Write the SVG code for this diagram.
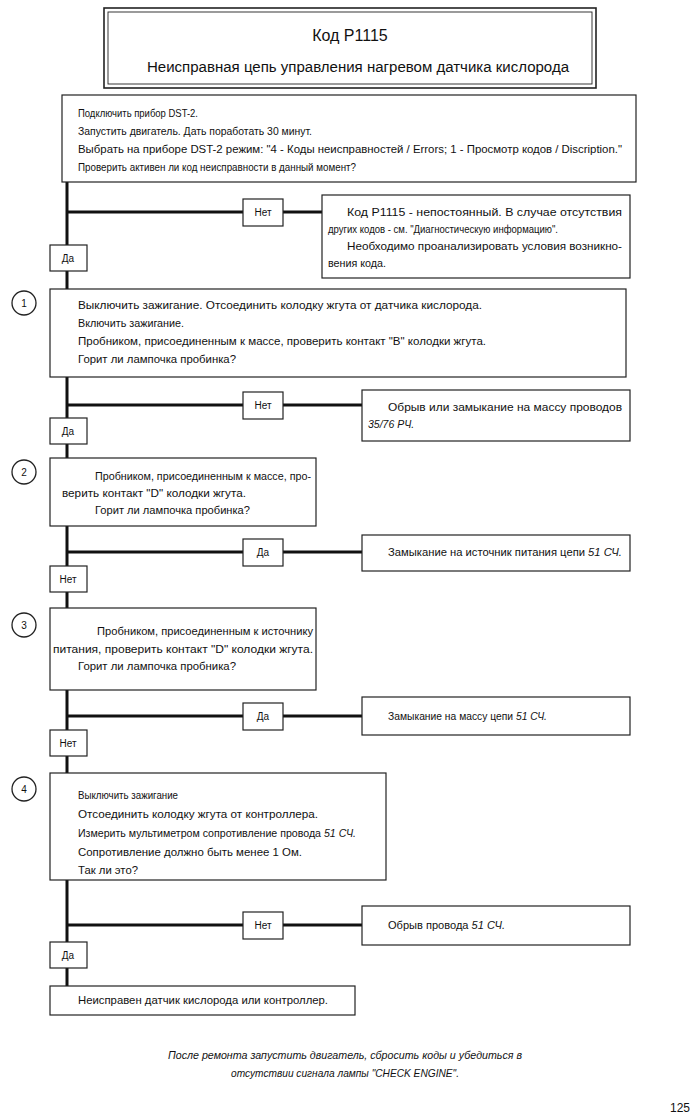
<svg xmlns="http://www.w3.org/2000/svg" width="693" height="1120" viewBox="0 0 693 1120">
<style>
text{font-family:"Liberation Sans",Arial,sans-serif;fill:#111}
.t{font-size:10.5px}
.tb{font-size:10.5px}
.i{font-style:italic}
.box{fill:#fff;stroke:#222;stroke-width:1.2}
.lbl{fill:#fff;stroke:#222;stroke-width:1.2}
.ln{stroke:#111;stroke-width:3;fill:none}
.num{font-size:10px;text-anchor:middle}
.lt{font-size:10px;text-anchor:middle}
</style>
<rect width="693" height="1120" fill="#fff"/>

<g id="header">
<rect x="104" y="8" width="492" height="80" fill="#fff" stroke="#222" stroke-width="1.6"/>
<rect x="108" y="12" width="484" height="72" fill="none" stroke="#222" stroke-width="0.9"/>
<text x="350" y="41" font-size="16" text-anchor="middle">Код P1115</text>
<text x="358" y="72" font-size="14" text-anchor="middle" textLength="422" lengthAdjust="spacingAndGlyphs">Неисправная цепь управления нагревом датчика кислорода</text>
</g>

<g id="connectors">
<path class="ln" d="M67 182V289M67 377V458M67 526V608M67 690V773M67 880V986"/>
<path class="ln" d="M67 212H322M67 405H362M67 552H362M67 716H362M67 925H362"/>
</g>

<g id="start">
<rect class="box" x="62" y="95" width="574" height="87"/>
<text class="t" x="78" y="117" textLength="120" lengthAdjust="spacingAndGlyphs">Подключить прибор DST-2.</text>
<text class="t" x="78" y="135" textLength="234" lengthAdjust="spacingAndGlyphs">Запустить двигатель. Дать поработать 30 минут.</text>
<text class="t" x="78" y="153" textLength="544" lengthAdjust="spacingAndGlyphs">Выбрать на приборе DST-2 режим: "4 - Коды неисправностей / Errors; 1 - Просмотр кодов / Discription."</text>
<text class="t" x="78" y="171" textLength="278" lengthAdjust="spacingAndGlyphs">Проверить активен ли код неисправности в данный момент?</text>
</g>

<g id="lbl-net0"><rect class="lbl" x="243" y="199" width="40" height="27"/><text class="lt" x="263" y="216">Нет</text></g>
<g id="res0">
<rect class="box" x="322" y="195" width="308" height="83"/>
<text class="tb" x="347" y="216" textLength="275" lengthAdjust="spacingAndGlyphs">Код P1115 - непостоянный. В случае отсутствия</text>
<text class="tb" x="328" y="233" textLength="230" lengthAdjust="spacingAndGlyphs">других кодов - см. "Диагностическую информацию".</text>
<text class="tb" x="347" y="250" textLength="275" lengthAdjust="spacingAndGlyphs">Необходимо проанализировать условия возникно-</text>
<text class="tb" x="328" y="267" textLength="58" lengthAdjust="spacingAndGlyphs">вения кода.</text>
</g>
<g id="lbl-da0"><rect class="lbl" x="50" y="245" width="37" height="26"/><text class="lt" x="68" y="262">Да</text></g>

<g id="step1">
<circle cx="24" cy="303" r="12" fill="#fff" stroke="#222" stroke-width="1.3"/>
<text class="num" x="24" y="307">1</text>
<rect class="box" x="50" y="289" width="576" height="88"/>
<text class="t" x="78" y="309" textLength="404" lengthAdjust="spacingAndGlyphs">Выключить зажигание. Отсоединить колодку жгута от датчика кислорода.</text>
<text class="t" x="78" y="327" textLength="106" lengthAdjust="spacingAndGlyphs">Включить зажигание.</text>
<text class="t" x="78" y="345" textLength="408" lengthAdjust="spacingAndGlyphs">Пробником, присоединенным к массе, проверить контакт "В" колодки жгута.</text>
<text class="t" x="78" y="363" textLength="158" lengthAdjust="spacingAndGlyphs">Горит ли лампочка пробинка?</text>
</g>
<g id="lbl-net1"><rect class="lbl" x="243" y="392" width="40" height="27"/><text class="lt" x="263" y="409">Нет</text></g>
<g id="res1">
<rect class="box" x="362" y="390" width="268" height="51"/>
<text class="t" x="388" y="411" textLength="234" lengthAdjust="spacingAndGlyphs">Обрыв или замыкание на массу проводов</text>
<text class="t i" x="368" y="428">35/76 РЧ.</text>
</g>
<g id="lbl-da1"><rect class="lbl" x="50" y="418" width="37" height="26"/><text class="lt" x="68" y="435">Да</text></g>

<g id="step2">
<circle cx="24" cy="472" r="12" fill="#fff" stroke="#222" stroke-width="1.3"/>
<text class="num" x="24" y="476">2</text>
<rect class="box" x="50" y="458" width="266" height="68"/>
<text class="t" x="95" y="480" textLength="216" lengthAdjust="spacingAndGlyphs">Пробником, присоединенным к массе, про-</text>
<text class="t" x="62" y="497" textLength="184" lengthAdjust="spacingAndGlyphs">верить контакт "D" колодки жгута.</text>
<text class="t" x="95" y="514" textLength="155" lengthAdjust="spacingAndGlyphs">Горит ли лампочка пробинка?</text>
</g>
<g id="lbl-da2"><rect class="lbl" x="243" y="539" width="40" height="27"/><text class="lt" x="263" y="556">Да</text></g>
<g id="res2">
<rect class="box" x="362" y="535" width="268" height="36"/>
<text class="t" x="388" y="556" textLength="234" lengthAdjust="spacingAndGlyphs">Замыкание на источник питания цепи <tspan class="i">51 СЧ.</tspan></text>
</g>
<g id="lbl-net2"><rect class="lbl" x="50" y="566" width="37" height="26"/><text class="lt" x="68" y="583">Нет</text></g>

<g id="step3">
<circle cx="24" cy="625" r="12" fill="#fff" stroke="#222" stroke-width="1.3"/>
<text class="num" x="24" y="629">3</text>
<rect class="box" x="50" y="608" width="266" height="82"/>
<text class="t" x="97" y="635" textLength="216" lengthAdjust="spacingAndGlyphs">Пробником, присоединенным к источнику</text>
<text class="t" x="53" y="653" textLength="260" lengthAdjust="spacingAndGlyphs">питания, проверить контакт "D" колодки жгута.</text>
<text class="t" x="78" y="670" textLength="158" lengthAdjust="spacingAndGlyphs">Горит ли лампочка пробника?</text>
</g>
<g id="lbl-da3"><rect class="lbl" x="243" y="703" width="40" height="27"/><text class="lt" x="263" y="720">Да</text></g>
<g id="res3">
<rect class="box" x="362" y="697" width="268" height="38"/>
<text class="t" x="388" y="720" textLength="159" lengthAdjust="spacingAndGlyphs">Замыкание на массу цепи <tspan class="i">51 СЧ.</tspan></text>
</g>
<g id="lbl-net3"><rect class="lbl" x="50" y="730" width="37" height="26"/><text class="lt" x="68" y="747">Нет</text></g>

<g id="step4">
<circle cx="24" cy="789" r="12" fill="#fff" stroke="#222" stroke-width="1.3"/>
<text class="num" x="24" y="793">4</text>
<rect class="box" x="50" y="773" width="336" height="107"/>
<text class="t" x="78" y="799" textLength="100" lengthAdjust="spacingAndGlyphs">Выключить зажигание</text>
<text class="t" x="78" y="818" textLength="240" lengthAdjust="spacingAndGlyphs">Отсоединить колодку жгута от контроллера.</text>
<text class="t" x="78" y="837" textLength="278" lengthAdjust="spacingAndGlyphs">Измерить мультиметром сопротивление провода <tspan class="i">51 СЧ.</tspan></text>
<text class="t" x="78" y="856" textLength="224" lengthAdjust="spacingAndGlyphs">Сопротивление должно быть менее 1 Ом.</text>
<text class="t" x="78" y="874" textLength="60" lengthAdjust="spacingAndGlyphs">Так ли это?</text>
</g>
<g id="lbl-net4"><rect class="lbl" x="243" y="912" width="40" height="27"/><text class="lt" x="263" y="929">Нет</text></g>
<g id="res4">
<rect class="box" x="362" y="906" width="268" height="39"/>
<text class="t" x="388" y="929" textLength="117" lengthAdjust="spacingAndGlyphs">Обрыв провода <tspan class="i">51 СЧ.</tspan></text>
</g>
<g id="lbl-da4"><rect class="lbl" x="50" y="942" width="37" height="26"/><text class="lt" x="68" y="959">Да</text></g>

<g id="final">
<rect class="box" x="50" y="986" width="305" height="29"/>
<text class="t" x="78" y="1004" textLength="250" lengthAdjust="spacingAndGlyphs">Неисправен датчик кислорода или контроллер.</text>
</g>

<g id="footer">
<text class="t i" x="345" y="1059" text-anchor="middle" textLength="354" lengthAdjust="spacingAndGlyphs">После ремонта запустить двигатель, сбросить коды и убедиться в</text>
<text class="t i" x="345" y="1077" text-anchor="middle" textLength="228" lengthAdjust="spacingAndGlyphs">отсутствии сигнала лампы "CHECK ENGINE".</text>
<text x="690" y="1112" font-size="12" text-anchor="end">125</text>
</g>
</svg>
